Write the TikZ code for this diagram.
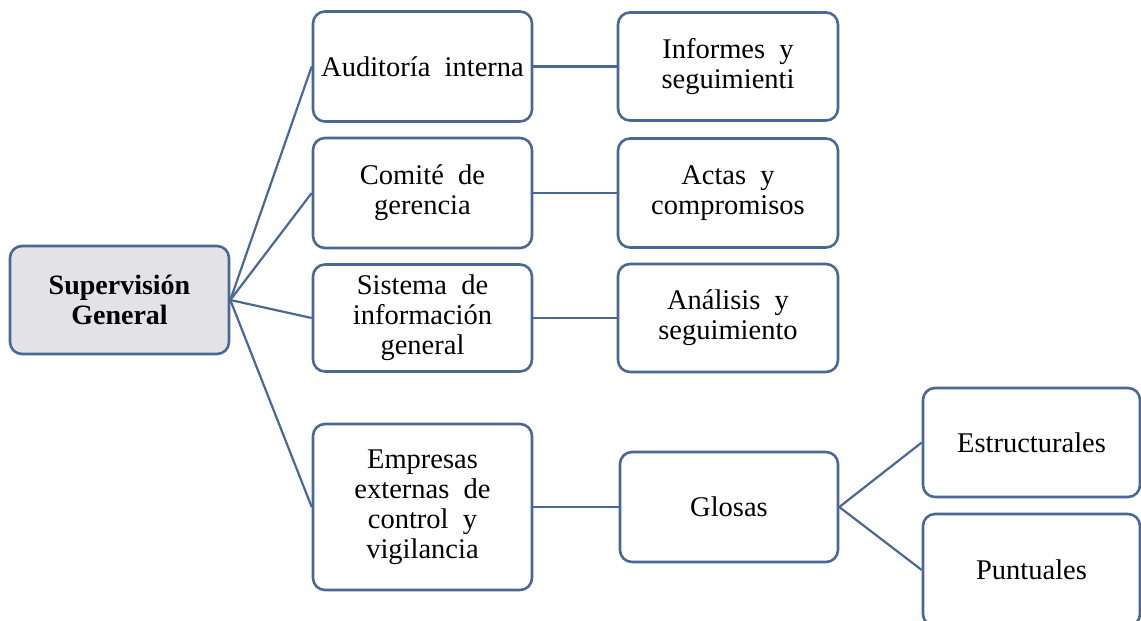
\documentclass[tikz,border=0pt]{standalone}
\usepackage{fontspec}
\setmainfont{Liberation Serif}
\definecolor{bordc}{HTML}{4A6796}
\definecolor{rootfill}{HTML}{E3E3E7}
\begin{document}
\begin{tikzpicture}[x=1pt,y=-1pt,
  box/.style={draw=bordc, line width=2.6pt, rounded corners=12pt, fill=white,
    align=center, inner sep=2pt, font=\fontsize{28.5}{30}\selectfont},
  rootbox/.style={box, fill=rootfill, font=\fontsize{28}{30}\selectfont\bfseries},
  link/.style={draw=bordc, line width=2.2pt}]
\useasboundingbox (0,0) rectangle (1141,621);
\clip (0,0) rectangle (1141,621);
\node[rootbox, minimum width=219pt, minimum height=108pt] (root) at (119.5,300) {Supervisión\\General};
\node[box, minimum width=219pt, minimum height=110pt] (a1) at (422.5,66.5) {Auditoría\ \ interna};
\node[box, minimum width=219pt, minimum height=110pt] (a2) at (422.5,193) {Comité\ \ de\\gerencia};
\node[box, minimum width=219pt, minimum height=107pt] (a3) at (422.5,318) {Sistema\ \ de\\información\\general};
\node[box, minimum width=219pt, minimum height=166pt] (a4) at (422.5,507) {Empresas\\externas\ \ de\\control\ \ y\\vigilancia};
\node[box, minimum width=220pt, minimum height=108pt] (b1) at (728,66.5) {Informes\ \ y\\seguimienti};
\node[box, minimum width=220pt, minimum height=109pt] (b2) at (728,193) {Actas\ \ y\\compromisos};
\node[box, minimum width=220pt, minimum height=108pt] (b3) at (728,318) {Análisis\ \ y\\seguimiento};
\node[box, minimum width=218pt, minimum height=110pt] (gl) at (729,507) {Glosas};
\node[box, minimum width=217pt, minimum height=109pt] (c1) at (1031.5,442.5) {Estructurales};
\node[box, minimum width=217pt, minimum height=112pt] (c2) at (1031.5,570) {Puntuales};
\draw[link] (root.east) -- (a1.west);
\draw[link] (root.east) -- (a2.west);
\draw[link] (root.east) -- (a3.west);
\draw[link] (root.east) -- (a4.west);
\draw[link] (a1.east) -- (b1.west);
\draw[link] (a2.east) -- (b2.west);
\draw[link] (a3.east) -- (b3.west);
\draw[link] (a4.east) -- (gl.west);
\draw[link] (gl.east) -- (c1.west);
\draw[link] (gl.east) -- (c2.west);
\end{tikzpicture}
\end{document}
